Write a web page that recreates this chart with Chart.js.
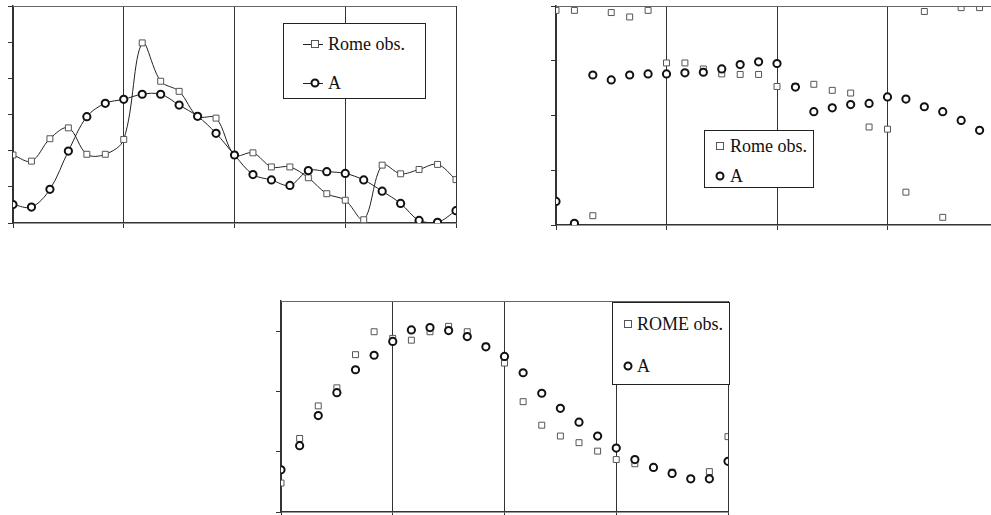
<!DOCTYPE html>
<html>
<head>
<meta charset="utf-8">
<script src="https://cdn.jsdelivr.net/npm/chart.js@4"></script>
<style>
html, body { margin: 0; padding: 0; overflow: hidden; background: #fff; width: 991px; height: 515px; }
canvas { position: absolute; }
.leg { position: absolute; background: #fff; border: 1px solid #222; font-family: 'Liberation Serif', 'Times New Roman', serif; font-size: 18px; color: #111; box-sizing: border-box; }
.row { position: absolute; left: 0; height: 20px; line-height: 20px; white-space: nowrap; }
.mk { position: absolute; top: 10px; }
.ln { position: absolute; top: 10px; height: 1px; background: #222; }
.sq { width: 6px; height: 6px; border: 1px solid #555; background: #fff; transform: translate(-50%, -50%); position: absolute; }
.ci { width: 5px; height: 5px; border: 2px solid #111; border-radius: 50%; background: #fff; transform: translate(-50%, -50%); position: absolute; }
.tx { position: absolute; top: 0; }
</style>
</head>
<body>
<canvas id="c1" width="470" height="240" style="left:0;top:0"></canvas>
<canvas id="c2" width="470" height="240" style="left:540px;top:0"></canvas>
<canvas id="c3" width="480" height="230" style="left:265px;top:290px"></canvas>

<!-- legend, top left panel -->
<div class="leg" style="left:283px;top:23px;width:143px;height:76px">
  <div class="row" style="top:10px;width:140px">
    <div class="ln" style="left:19px;width:20px"></div><div class="sq" style="left:31px;top:10px"></div>
    <span class="tx" style="left:44px">Rome obs.</span>
  </div>
  <div class="row" style="top:49px;width:140px">
    <div class="ln" style="left:19px;width:20px"></div><div class="ci" style="left:31px;top:10px"></div>
    <span class="tx" style="left:44px">A</span>
  </div>
</div>
<!-- legend, top right panel -->
<div class="leg" style="left:704px;top:130px;width:110px;height:58px">
  <div class="row" style="top:5px;width:108px">
    <div class="sq" style="left:15px;top:10px"></div>
    <span class="tx" style="left:25px">Rome obs.</span>
  </div>
  <div class="row" style="top:35px;width:108px">
    <div class="ci" style="left:15px;top:10px"></div>
    <span class="tx" style="left:25px">A</span>
  </div>
</div>
<!-- legend, bottom panel -->
<div class="leg" style="left:612px;top:302px;width:118px;height:83px">
  <div class="row" style="top:11px;width:116px">
    <div class="sq" style="left:15px;top:10px"></div>
    <span class="tx" style="left:24px">ROME obs.</span>
  </div>
  <div class="row" style="top:53px;width:116px">
    <div class="ci" style="left:15px;top:10px"></div>
    <span class="tx" style="left:24px">A</span>
  </div>
</div>

<script>
// x positions shared by all three panels
const steps = [0,1,2,3,4,5,6,7,8,9,10,11,12,13,14,15,16,17,18,19,20,21,22,23,24];

// panel 1 (top left)
const rome1 = [1.88,1.71,2.33,2.63,1.90,1.90,2.31,4.98,3.92,3.64,2.95,2.90,1.88,1.94,1.55,1.55,1.25,0.81,0.63,0.09,1.60,1.36,1.48,1.62,1.20];
const a1    = [0.51,0.44,0.93,1.99,2.94,3.31,3.42,3.56,3.56,3.26,2.95,2.48,1.88,1.34,1.19,1.04,1.45,1.42,1.37,1.19,0.88,0.54,0.07,0.02,0.34];

// panel 2 (top right)
const rome2 = [3.92,3.92,0.17,3.88,3.80,3.92,2.96,2.96,2.85,2.76,2.75,2.75,2.53,2.53,2.57,2.46,2.41,1.79,1.75,0.60,3.90,0.14,3.97,3.97];
const a2    = [0.43,0.03,2.74,2.65,2.74,2.76,2.76,2.78,2.79,2.85,2.93,2.98,2.95,2.52,2.07,2.14,2.20,2.22,2.34,2.30,2.16,2.07,1.91,1.73];

// panel 3 (bottom)
const rome3 = [0.48,1.22,1.76,2.06,2.61,2.99,2.88,2.85,2.99,3.08,2.99,2.75,2.47,1.83,1.44,1.26,1.15,1.01,0.87,0.80,0.74,0.66,0.55,0.67,1.25];
const a3    = [0.70,1.10,1.60,1.98,2.36,2.60,2.83,3.02,3.06,3.01,2.91,2.74,2.58,2.31,1.97,1.72,1.49,1.26,1.06,0.87,0.74,0.64,0.55,0.55,0.84];

function pts(ys) { return ys.map((y, i) => ({x: steps[i], y: y})); }

// top border of the plot area
const frame = {
  id: 'frame',
  afterDraw(chart) {
    const a = chart.chartArea, c = chart.ctx;
    c.save();
    c.strokeStyle = '#666';
    c.lineWidth = 1;
    c.beginPath();
    c.moveTo(a.left, Math.round(a.top) + 0.5);
    c.lineTo(a.right, Math.round(a.top) + 0.5);
    c.stroke();
    c.restore();
  }
};

function makeChart(id, romeY, aY, ymax, lines, pad) {
  return new Chart(document.getElementById(id), {
    type: 'scatter',
    data: {
      datasets: [
        {label: 'Rome obs.', data: pts(romeY), order: 1, showLine: lines, tension: 0.35,
         borderColor: lines ? '#222' : '#555', borderWidth: 1,
         pointStyle: 'rect', pointRadius: 4.2, pointBorderColor: '#555', pointBorderWidth: 1, pointBackgroundColor: '#fff'},
        {label: 'A', data: pts(aY), order: 0, showLine: lines, tension: 0.35,
         borderColor: '#222', borderWidth: 1,
         pointStyle: 'circle', pointRadius: 3.6, pointBorderColor: '#111', pointBorderWidth: 2, pointBackgroundColor: '#fff'}
      ]
    },
    options: {
      responsive: false,
      animation: false,
      layout: {padding: pad},
      plugins: {legend: {display: false}, tooltip: {enabled: false}},
      scales: {
        x: {type: 'linear', min: 0, max: 24,
            ticks: {display: false, stepSize: 6},
            grid: {color: '#333', lineWidth: 1, tickLength: 5, drawTicks: true},
            border: {display: true, color: '#333', width: 1.5}},
        y: {min: 0, max: ymax,
            ticks: {display: false, stepSize: 1},
            afterBuildTicks: s => { s.ticks = s.ticks.filter(t => Number.isInteger(t.value)); },
            grid: {drawOnChartArea: false, color: '#333', tickLength: 5},
            border: {display: true, color: '#333', width: 1.5}}
      }
    },
    plugins: [frame]
  });
}

makeChart('c1', rome1, a1, 6, true,  {left: 8, top: 5, right: 14, bottom: 12});
makeChart('c2', rome2, a2, 4, false, {left: 11, top: 6, right: 12, bottom: 10});
makeChart('c3', rome3, a3, 3.5, false, {left: 11, top: 11, right: 17, bottom: 3});
</script>
</body>
</html>
